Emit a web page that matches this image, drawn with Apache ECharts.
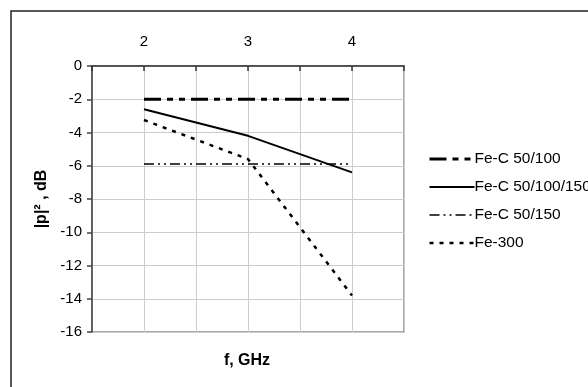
<!DOCTYPE html>
<html><head><meta charset="utf-8">
<script src="https://cdn.jsdelivr.net/npm/echarts@6/dist/echarts.min.js"></script>
<style>html,body{margin:0;padding:0;background:#fff}#c{width:588px;height:387px}</style>
</head><body><div id="c"></div>
<script>
var freqs = [2, 3, 4];
var feC50_100 = [-2, -2, -2];
var feC50_100_150 = [-2.6, -4.2, -6.4];
var feC50_150 = [-5.9, -5.9, -5.9];
var fe300 = [-3.25, -5.6, -13.8];
var seriesNames = ['Fe-C 50/100', 'Fe-C 50/100/150', 'Fe-C 50/150', 'Fe-300'];
var yTicks = [0, -2, -4, -6, -8, -10, -12, -14, -16];
var xTickLabels = [2, 3, 4];

function pairs(ys){ return freqs.map(function(f,i){ return [f, ys[i]]; }); }
var font = 'Liberation Sans, Arial, sans-serif';
var styles = [
  {color: '#000', width: 3, type: [17, 6, 6, 6, 6, 6]},
  {color: '#000', width: 2, type: 'solid'},
  {color: '#000', width: 1.5, type: [10, 4, 2, 4, 2, 4]},
  {color: '#000', width: 2.5, type: [4, 6]}
];
var chart = echarts.init(document.getElementById('c'));
chart.setOption({
  animation: false,
  textStyle: {fontFamily: font},
  grid: {left: 92, top: 66, width: 312, height: 266, show: true, borderColor: '#8c8c8c', borderWidth: 1.5, backgroundColor: 'transparent'},
  graphic: [
    {type: 'rect', shape: {x: 11, y: 11, width: 700, height: 500}, style: {fill: 'none', stroke: '#222', lineWidth: 1.5}, z: 100},
    {type: 'text', style: {text: 'f, GHz', font: 'bold 16px ' + font, fill: '#000', x: 247, y: 361, textAlign: 'center', textVerticalAlign: 'middle'}}
  ],
  legend: {
    orient: 'vertical', left: 423, top: 146, itemWidth: 45, itemHeight: 14, itemGap: 12,
    data: seriesNames.map(function(n, i){ return {name: n, lineStyle: styles[i]}; }),
    itemStyle: {color: 'transparent', borderWidth: 0, opacity: 0},
    textStyle: {fontSize: 15.5, color: '#000', fontFamily: font, padding: [0,0,0,-5]}
  },
  xAxis: {
    type: 'value', position: 'top', min: 1.5, max: 4.5, interval: 0.5,
    axisLine: {lineStyle: {color: '#333', width: 1.5}},
    axisTick: {inside: true, length: 5, lineStyle: {color: '#333', width: 1.5}},
    axisLabel: {fontSize: 15, color: '#000', margin: 17, fontFamily: font,
      formatter: function(v){ return xTickLabels.indexOf(v) >= 0 ? String(v) : ''; }},
    splitLine: {lineStyle: {color: '#cccccc', width: 1}}
  },
  yAxis: {
    type: 'value', min: -16, max: 0, interval: 2,
    name: '|p|² , dB', nameLocation: 'middle', nameGap: 37, nameRotate: 90,
    nameTextStyle: {fontSize: 16, fontWeight: 'bold', color: '#000', fontFamily: font},
    axisLine: {show: true, lineStyle: {color: '#444', width: 1.5}},
    axisTick: {show: true, length: 5, lineStyle: {color: '#444', width: 1.5}},
    axisLabel: {fontSize: 15, color: '#000', margin: 10, fontFamily: font,
      formatter: function(v){ return yTicks.indexOf(v) >= 0 ? String(v) : ''; }},
    splitLine: {lineStyle: {color: '#cccccc', width: 1}}
  },
  series: [
    {name: seriesNames[0], type: 'line', data: pairs(feC50_100), symbol: 'none', z: 5, lineStyle: styles[0], itemStyle: {color: '#000'}},
    {name: seriesNames[1], type: 'line', data: pairs(feC50_100_150), symbol: 'none', z: 5, lineStyle: styles[1], itemStyle: {color: '#000'}},
    {name: seriesNames[2], type: 'line', data: pairs(feC50_150), symbol: 'none', z: 5, lineStyle: styles[2], itemStyle: {color: '#000'}},
    {name: seriesNames[3], type: 'line', data: pairs(fe300), symbol: 'none', z: 5, lineStyle: styles[3], itemStyle: {color: '#000'}}
  ]
});
</script></body></html>
